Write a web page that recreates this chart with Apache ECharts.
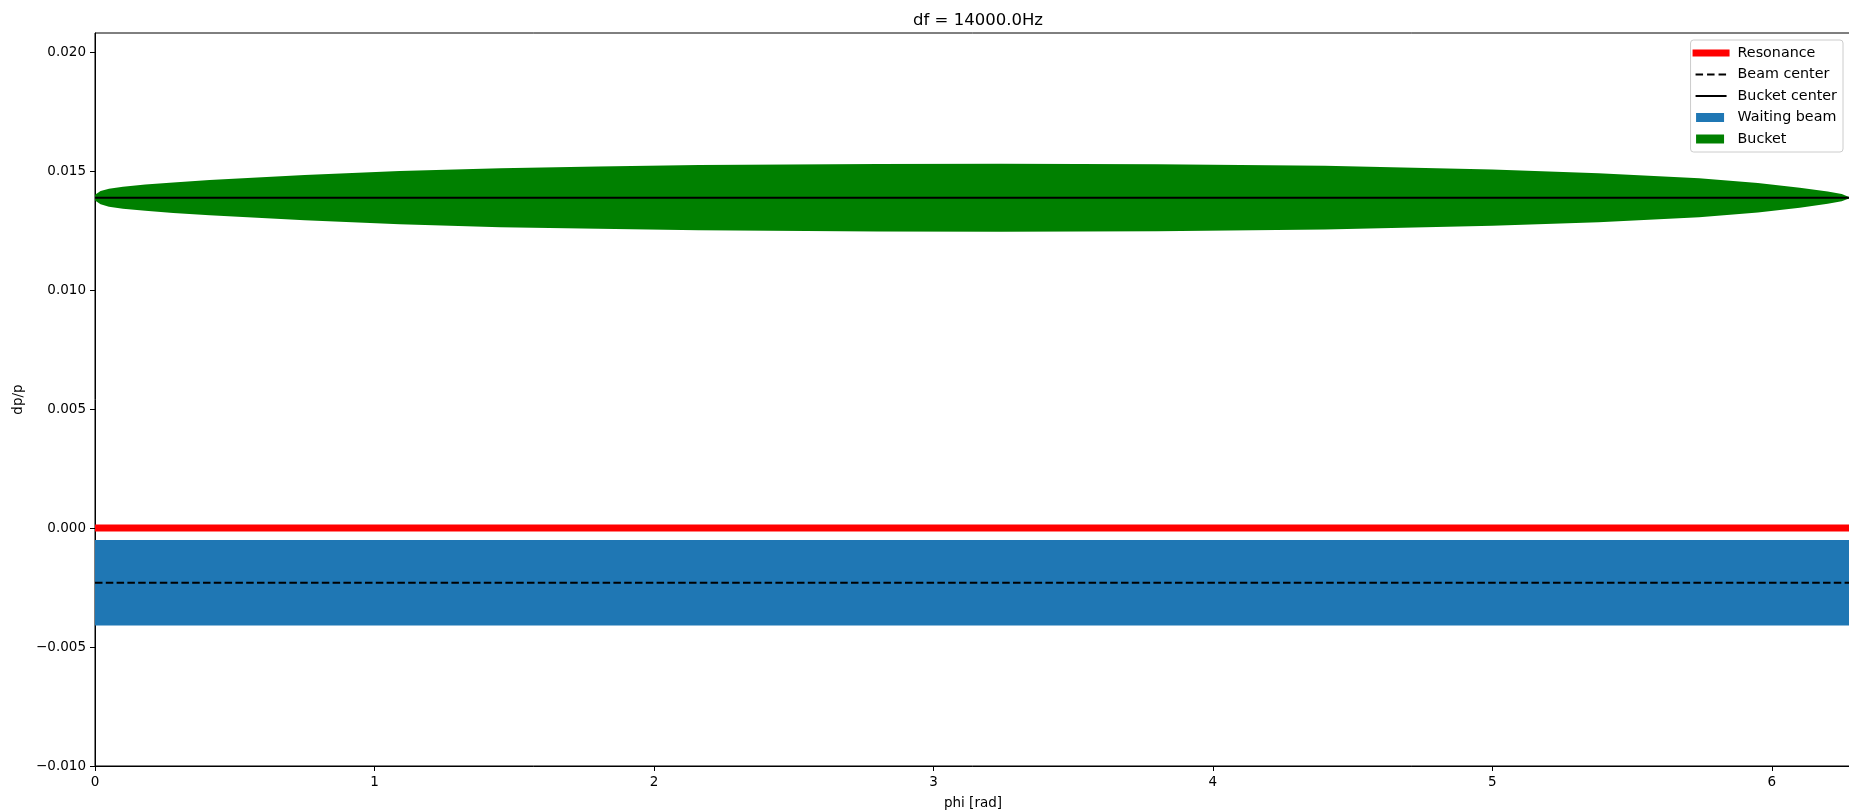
<!DOCTYPE html>
<html>
<head>
<meta charset="utf-8">
<title>df = 14000.0Hz</title>
<script src="https://cdn.jsdelivr.net/npm/echarts@6/dist/echarts.min.js"></script>
<style>
  html, body { margin: 0; padding: 0; background: #fff; }
  #chart { width: 1849px; height: 812px; }
</style>
</head>
<body>
<div id="chart"></div>
<script>
// 数据
const titleText = 'df = 14000.0Hz'
const phiRange = [0, 2 * Math.PI]
const xTicks = [0, 1, 2, 3, 4, 5, 6]
const yTicks = [-0.010, -0.005, 0.000, 0.005, 0.010, 0.015, 0.020]
const yRange = [-0.010, 0.0208]

const resonanceDp = 0.0
const beamCenter = -0.0023
const beamLow = -0.0041
const beamHigh = -0.0005
const bucketCenter = 0.01388
// bucket outline: phi and half height (dp/p)
const bucketPhi = [0, 0.02, 0.05, 0.1, 0.18, 0.28, 0.41, 0.75, 1.09, 1.45, 1.8, 2.16, 2.8, 3.24, 3.8, 4.4, 5.0, 5.38, 5.74, 5.95, 6.1, 6.2, 6.25, 6.2832]
const bucketHalf = [0.00012, 0.00028, 0.00038, 0.00046, 0.00055, 0.00064, 0.00074, 0.00095, 0.00112, 0.00124, 0.00131, 0.00137, 0.00142, 0.00143, 0.00141, 0.00134, 0.00118, 0.00103, 0.00082, 0.00062, 0.00042, 0.00026, 0.00015, 0]

const legendNames = ['Resonance', 'Beam center', 'Bucket center', 'Waiting beam', 'Bucket']

let _$ = (dom) => document.querySelector(dom)

let font = 'DejaVu Sans'

let fmtY = (v) => (v < 0 ? '\u2212' : '') + Math.abs(v).toFixed(3)

// legend icons (keep a 40x10 box so they don't get stretched)
let box = 'M0,0L0,0M40,10L40,10'
let icons = {
    'Resonance': 'path://' + box + 'M0,1.5h37v7h-37z',
    'Beam center': 'path://' + box + 'M3,4h7.5v2h-7.5zM14.5,4h7.5v2h-7.5zM26,4h7.5v2h-7.5z',
    'Bucket center': 'path://' + box + 'M3,4h31v2h-31z',
    'Waiting beam': 'path://' + box + 'M3.5,0.5h28v9h-28z',
    'Bucket': 'path://' + box + 'M3.5,0.5h28v9h-28z'
}

let upper = bucketPhi.map((p, i) => [p, bucketCenter + bucketHalf[i]])
let lower = bucketPhi.map((p, i) => [p, bucketCenter - bucketHalf[i]])

let polygonItem = (pts, color) => {
    return (params, api) => {
        if (params.dataIndex !== 0) return null
        return {
            type: 'polygon',
            shape: { points: pts().map(p => api.coord(p)) },
            style: { fill: color }
        }
    }
}

let option = {
    backgroundColor: '#fff',
    animation: false,
    title: {
        text: titleText,
        left: 973,
        top: 7,
        textAlign: 'center',
        textStyle: { fontFamily: font, fontSize: 16.5, fontWeight: 'normal', color: '#000' }
    },
    legend: {
        orient: 'vertical',
        right: 6,
        top: 40,
        padding: [6, 6, 6, 2],
        itemGap: 7.5,
        itemWidth: 40,
        itemHeight: 10,
        backgroundColor: 'rgba(255,255,255,0.8)',
        borderColor: '#cccccc',
        borderWidth: 1,
        borderRadius: 3,
        itemStyle: { borderWidth: 0 },
        textStyle: { fontFamily: font, fontSize: 14.3, color: '#000', lineHeight: 14 },
        data: legendNames.map(n => ({ name: n, icon: icons[n] }))
    },
    grid: {
        left: 95,
        right: -2,
        top: 33,
        bottom: 46,
        outerBoundsMode: 'none',
        containLabel: false,
        show: true,
        borderColor: '#000',
        borderWidth: 1,
        backgroundColor: 'transparent'
    },
    xAxis: {
        type: 'value',
        min: phiRange[0],
        max: phiRange[1],
        name: 'phi [rad]',
        nameLocation: 'middle',
        nameGap: 30,
        nameTextStyle: { fontFamily: font, fontSize: 13.5, color: '#000' },
        axisLine: { show: true, onZero: false, lineStyle: { color: '#000', width: 1 } },
        axisTick: { show: true, inside: false, length: 5, lineStyle: { color: '#000' }, customValues: xTicks },
        axisLabel: {
            fontFamily: font, fontSize: 13.5, color: '#000', margin: 9,
            customValues: xTicks,
            formatter: (v) => String(v)
        },
        splitLine: { show: false }
    },
    yAxis: {
        type: 'value',
        min: yRange[0],
        max: yRange[1],
        name: 'dp/p',
        nameLocation: 'middle',
        nameGap: 69,
        nameTextStyle: { fontFamily: font, fontSize: 13.5, color: '#000' },
        axisLine: { show: true, onZero: false, lineStyle: { color: '#000', width: 1 } },
        axisTick: { show: true, inside: false, length: 5, lineStyle: { color: '#000' }, customValues: yTicks },
        axisLabel: {
            fontFamily: font, fontSize: 13.5, color: '#000', margin: 9,
            customValues: yTicks,
            formatter: fmtY
        },
        splitLine: { show: false }
    },
    series: [
        {
            name: 'Resonance',
            type: 'line',
            z: 3,
            showSymbol: false,
            color: '#ff0000',
            itemStyle: { color: '#ff0000' },
            lineStyle: { color: '#ff0000', width: 7 },
            data: phiRange.map(p => [p, resonanceDp])
        },
        {
            name: 'Beam center',
            type: 'line',
            z: 3,
            showSymbol: false,
            color: '#000',
            itemStyle: { color: '#000' },
            lineStyle: { color: '#000', width: 2, type: [7.5, 3.3] },
            data: phiRange.map(p => [p, beamCenter])
        },
        {
            name: 'Bucket center',
            type: 'line',
            z: 3,
            showSymbol: false,
            color: '#000',
            itemStyle: { color: '#000' },
            lineStyle: { color: '#000', width: 2 },
            data: phiRange.map(p => [p, bucketCenter])
        },
        {
            name: 'Waiting beam',
            type: 'custom',
            z: 1,
            color: '#1f77b4',
            itemStyle: { color: '#1f77b4' },
            data: [[phiRange[0], beamLow]],
            renderItem: polygonItem(() => [
                [phiRange[0], beamLow], [phiRange[1], beamLow],
                [phiRange[1], beamHigh], [phiRange[0], beamHigh]
            ], '#1f77b4')
        },
        {
            name: 'Bucket',
            type: 'custom',
            z: 1,
            color: '#008000',
            itemStyle: { color: '#008000' },
            data: [[bucketPhi[0], bucketCenter]],
            renderItem: polygonItem(() => upper.concat(lower.slice().reverse()), '#008000')
        }
    ]
}

let mychart = echarts.init(_$('#chart'))
mychart.setOption(option)
</script>
</body>
</html>
